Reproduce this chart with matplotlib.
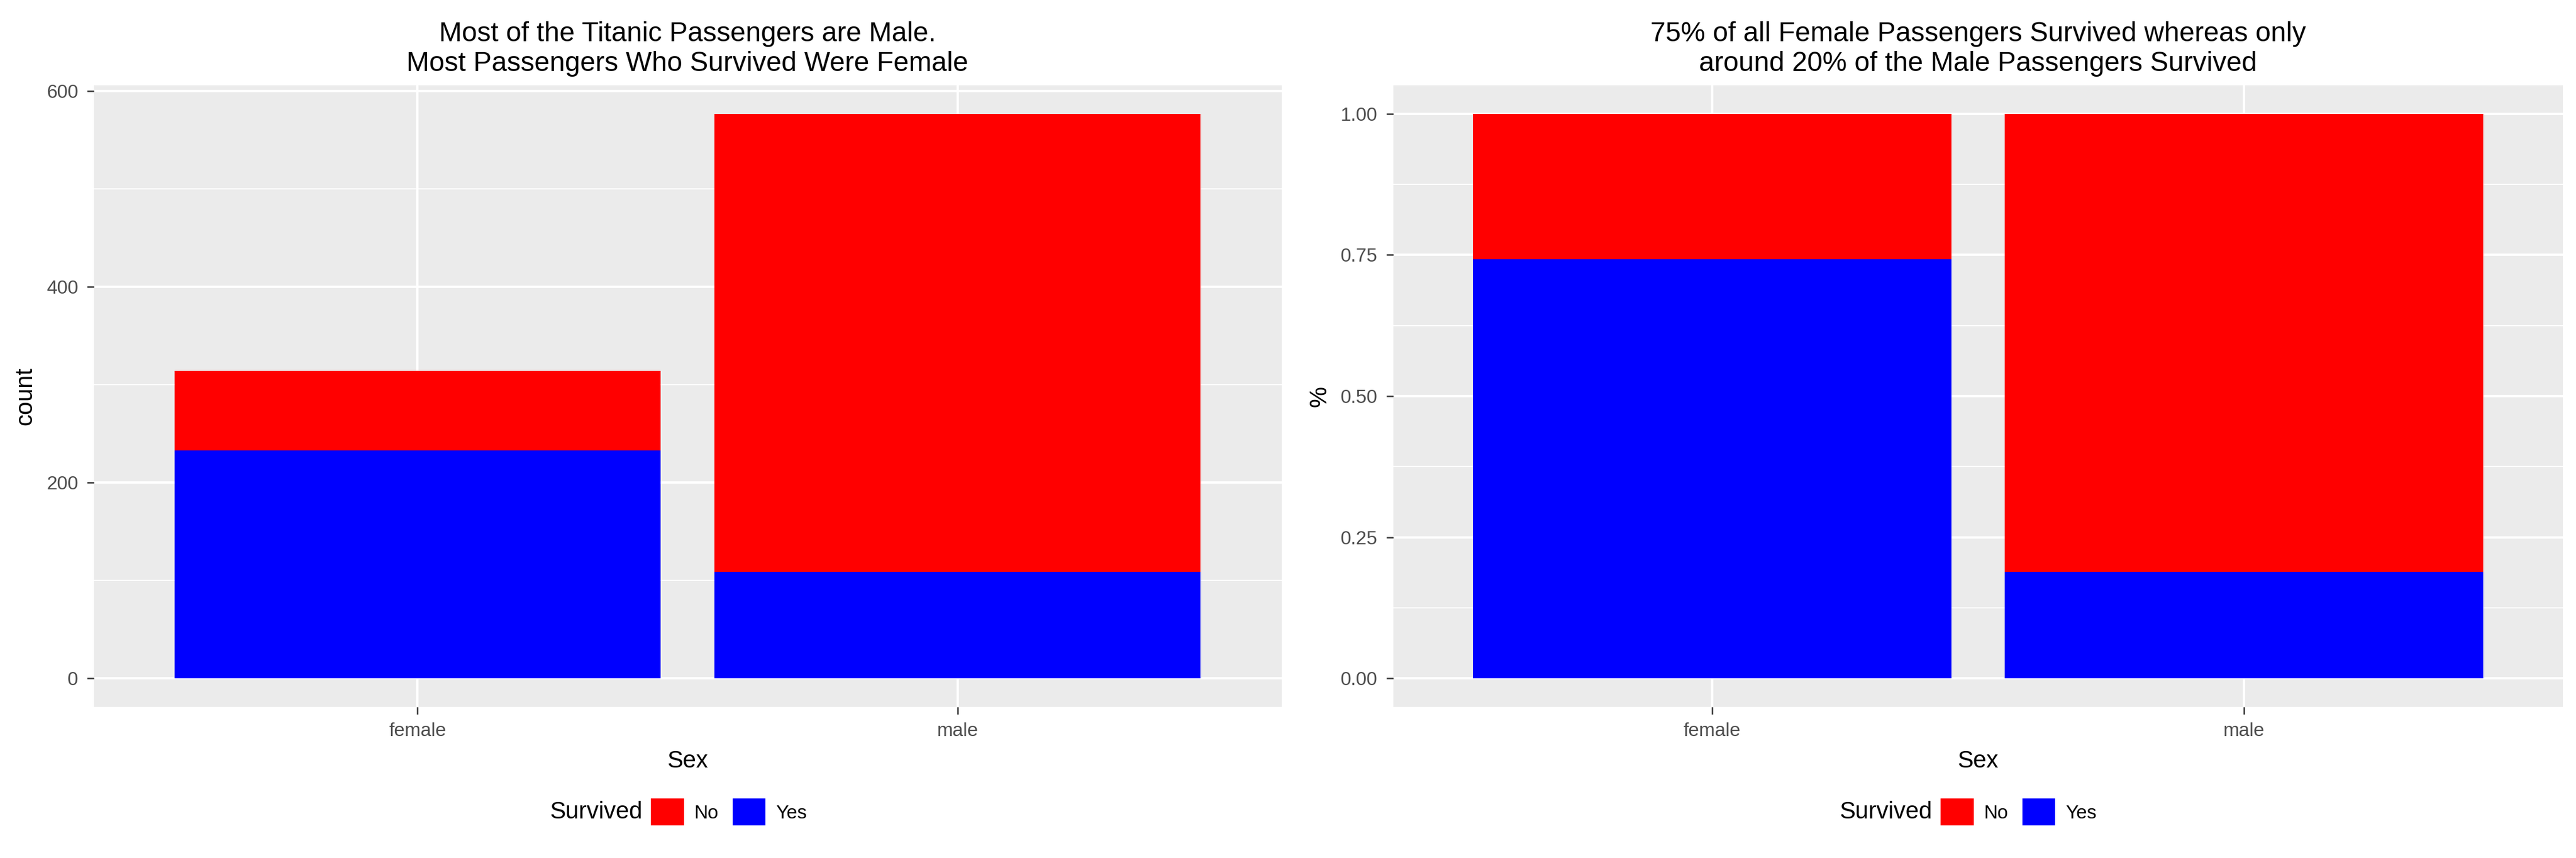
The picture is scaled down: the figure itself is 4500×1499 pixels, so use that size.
import matplotlib.pyplot as plt
from matplotlib.patches import Patch

sex = ["female", "male"]
survived_yes = [233, 109]
survived_no = [81, 468]
totals = [y + n for y, n in zip(survived_yes, survived_no)]
pct_yes = [y / t for y, t in zip(survived_yes, totals)]
pct_no = [n / t for n, t in zip(survived_no, totals)]

plt.rcParams["font.family"] = ["Liberation Sans", "DejaVu Sans"]
fig = plt.figure(figsize=(15, 1499 / 300), dpi=300)

W, H = 1568, 522
def place(l, r, t, b):
    return fig.add_axes([l / W, 1 - b / H, (r - l) / W, (b - t) / H])

def style(ax, yticks, ylabels, ylabel, title, ymax, ymin, legx):
    ax.set_facecolor("#EBEBEB")
    for s in ax.spines.values():
        s.set_visible(False)
    ax.set_yticks(yticks)
    ax.set_yticklabels(ylabels, fontsize=8, color="#4D4D4D")
    step = yticks[1] - yticks[0]
    ax.set_yticks([t + step / 2 for t in yticks], minor=True)
    ax.set_xticks([0, 1])
    ax.set_xticklabels(sex, fontsize=8, color="#4D4D4D")
    ax.set_xlim(-0.6, 1.6)
    ax.set_ylim(ymin, ymax)
    ax.tick_params(axis="both", which="major", length=3, color="#333333", width=0.6)
    ax.tick_params(axis="y", which="minor", length=0)
    ax.grid(True, which="major", color="white", linewidth=1.0)
    ax.grid(True, which="minor", axis="y", color="white", linewidth=0.5)
    ax.set_axisbelow(True)
    ax.set_xlabel("Sex", fontsize=10)
    ax.set_ylabel(ylabel, fontsize=10)
    ax.set_title(title, fontsize=11.5, pad=6)
    fig.legend(handles=[Patch(color="red", label="No"), Patch(color="blue", label="Yes")],
               loc="center left", bbox_to_anchor=(legx / W, 1 - 494 / H),
               ncol=2, frameon=False, fontsize=8, borderaxespad=0, borderpad=0,
               handlelength=1.6, handleheight=1.6, columnspacing=0.8, handletextpad=0.6)
    fig.text((legx - 6) / W, 1 - 494 / H, "Survived", fontsize=10, ha="right", va="center")

ax1 = place(57, 780, 52, 430)
ax1.bar(sex, survived_yes, width=0.9, color="blue")
ax1.bar(sex, survived_no, bottom=survived_yes, width=0.9, color="red")
style(ax1, [0, 200, 400, 600], ["0", "200", "400", "600"], "count",
      "Most of the Titanic Passengers are Male.\nMost Passengers Who Survived Were Female",
      577 * 1.05, -577 * 0.05, 397)

ax2 = place(848, 1560, 52, 430)
ax2.bar(sex, pct_yes, width=0.9, color="blue")
ax2.bar(sex, pct_no, bottom=pct_yes, width=0.9, color="red")
style(ax2, [0, 0.25, 0.5, 0.75, 1.0], ["0.00", "0.25", "0.50", "0.75", "1.00"], "%",
      "75% of all Female Passengers Survived whereas only\naround 20% of the Male Passengers Survived",
      1.05, -0.05, 1182)

fig.savefig("out.png", dpi=300)
